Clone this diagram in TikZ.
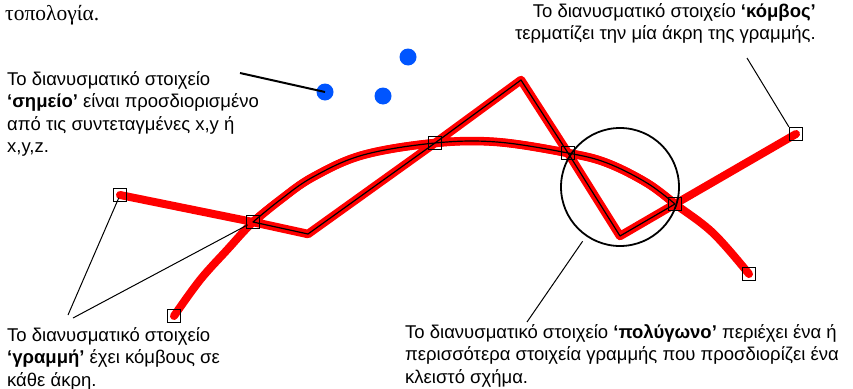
\documentclass[tikz,border=0pt]{standalone}
\usepackage{fontspec}
\setmainfont{Liberation Sans}
\newfontfamily\serifgreek{Liberation Serif}

\definecolor{pointblue}{RGB}{0,85,255}
\definecolor{linered}{RGB}{255,0,0}

\tikzset{
  note/.style={inner sep=0pt, align=left, font=\fontsize{18.5}{22.5}\selectfont},
  redline/.style={draw=linered, line width=8pt, line cap=round, line join=round},
  polyedge/.style={draw=black, line width=1.2pt, line join=round,
    preaction={draw=linered, line width=8.5pt, line join=round, line cap=round}},
  knot/.style={draw=black, line width=1.3pt, rectangle, minimum size=13pt, inner sep=0pt},
  dot/.style={circle, fill=pointblue, minimum size=17pt, inner sep=0pt},
  ring/.style={circle, draw=black, line width=1.8pt, minimum size=118pt, inner sep=0pt},
  leader/.style={draw=black, line width=1pt}
}

\begin{document}
\begin{tikzpicture}[x=1pt, y=-1pt]
% Set the canvas
\useasboundingbox (0,0) rectangle (853,388);

% Nodes of the line features
\coordinate (k1) at (120,195);
\coordinate (k2) at (253,222);
\coordinate (k3) at (435,143);
\coordinate (k4) at (568,153);
\coordinate (k5) at (675,204);
\coordinate (k6) at (796,134);
\coordinate (k7) at (749,274);
\coordinate (k8) at (174,316);
% Corners of the polygon
\coordinate (v1) at (308,234);
\coordinate (v2) at (521,80);
\coordinate (v3) at (620,236);

% Draw the lines
\draw[redline] (k1) -- (k2);
\draw[redline] (k5) -- (k6);
\draw[redline] plot[smooth, tension=0.6] coordinates {(k8) (200,280) (227,250) (k2) (280,200) (313,177) (363,155) (k3) (497,142) (k4) (607,163) (647,183) (k5) (713,233) (k7)};

% Draw the polygon
\draw[polyedge] (k2) -- (v1) -- (k3) -- (v2) -- (k4) -- (v3) -- (k5)
  -- plot[smooth, tension=0.6] coordinates {(k5) (647,183) (607,163) (k4) (497,142) (k3) (363,155) (313,177) (280,200) (k2)} -- cycle;

% Insert the nodes
\foreach \k in {1,...,8}
  \node[knot] (n\k) at (k\k) {};

% Point features
\node[dot] (p1) at (325,92) {};
\node[dot] (p2) at (408,57) {};
\node[dot] (p3) at (383,96) {};

\node[ring] (ring) at (620,187) {};

% Texts (base = baseline of the last line)
\node[anchor=base west, inner sep=0pt, font=\serifgreek\fontsize{21.5}{24}\selectfont] (topo) at (5,20) {τοπολογία.};
\node[note, anchor=base west] (simtext) at (7,152.5) {Το διανυσματικό στοιχείο\\{\bfseries ‘σημείο’} είναι προσδιορισμένο\\από τις συντεταγμένες x,y ή\\x,y,z.};
\node[note, anchor=base east, align=right] (knottext) at (816,39.5) {Το διανυσματικό στοιχείο {\bfseries ‘κόμβος’}\\τερματίζει την μία άκρη της γραμμής.};
\node[note, anchor=base west] (linetext) at (7,386) {Το διανυσματικό στοιχείο\\{\bfseries ‘γραμμή’} έχει κόμβους σε\\κάθε άκρη.};
\node[note, anchor=base west] (polytext) at (405,383) {Το διανυσματικό στοιχείο {\bfseries ‘πολύγωνο’} περιέχει ένα ή\\περισσότερα στοιχεία γραμμής που προσδιορίζει ένα\\κλειστό σχήμα.};

% Leader lines
\coordinate (s1) at (240,73);
\coordinate (g1) at (68,315);
\coordinate (g2) at (73,318);
\coordinate (m1) at (747,58);
\coordinate (r1) at (527,322);
\draw[leader, line width=2pt] (s1) -- (p1.center);
\draw[leader, shorten >=3pt] (g1) -- (k1);
\draw[leader, shorten >=6pt] (g2) -- (k2);
\draw[leader] (m1) -- (n6.north west);
\draw[leader, shorten >=6pt] (r1) -- (ring);
\end{tikzpicture}
\end{document}
